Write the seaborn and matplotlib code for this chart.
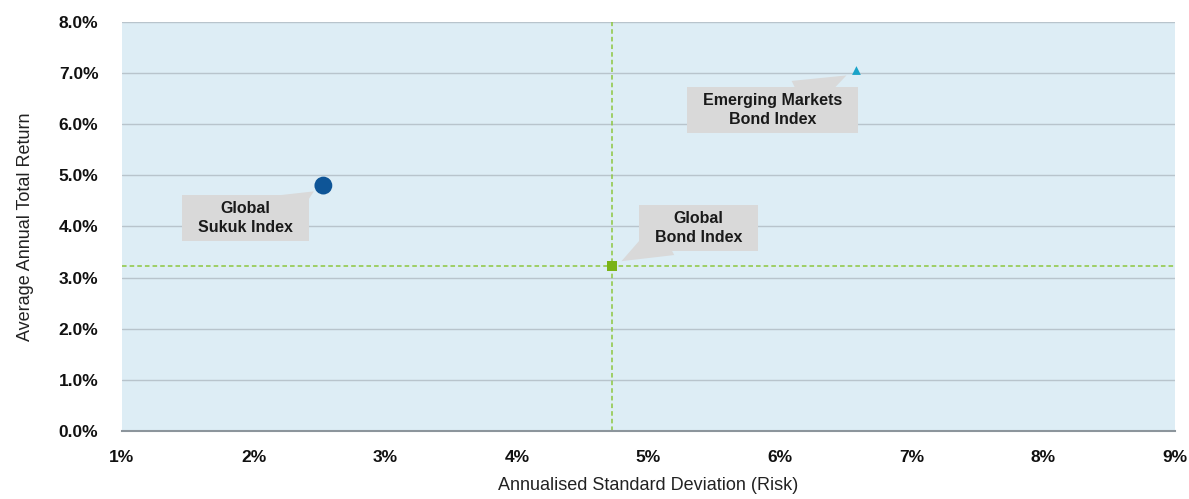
import matplotlib
matplotlib.use("Agg")
import matplotlib.pyplot as plt
import seaborn as sns
import pandas as pd
from matplotlib.ticker import FuncFormatter

# Index risk / return figures (percent)
indices = ["Global\nSukuk Index", "Global\nBond Index", "Emerging Markets\nBond Index"]
risk = [2.53, 4.72, 6.58]
ret = [4.80, 3.22, 7.05]

# Callout placement (data coords) and where the pointer leaves the text block
label_pos_x = [1.94, 5.38, 5.94]
label_pos_y = [4.17, 3.97, 6.28]
pointer_rel = [(0.85, 0.65), (0.12, 0.2), (0.7, 0.85)]

colors = ["#0E5597", "#7AB317", "#1AA3C8"]
markers = ["o", "s", "^"]
sizes = [165, 50, 40]

sns.set_theme(style="white")
plt.rcParams["font.family"] = ["Liberation Sans", "DejaVu Sans"]

df = pd.DataFrame({"Index": indices, "Risk": risk, "Return": ret})

fig = plt.figure(figsize=(11.89, 4.99), dpi=100)
ax = fig.add_axes([0.1026, 0.1363, 0.8856, 0.8197])
ax.set_facecolor("#DDEDF5")

ax.set_xlim(1, 9)
ax.set_ylim(0, 8)
ax.set_yticks(list(range(0, 9)))
ax.set_xticks(list(range(1, 10)))
ax.yaxis.set_major_formatter(FuncFormatter(lambda v, p: f"{v:.1f}%"))
ax.xaxis.set_major_formatter(FuncFormatter(lambda v, p: f"{v:.0f}%"))
ax.grid(axis="y", color="#B8C4CC", linewidth=1)
ax.set_axisbelow(True)
for s in ["top", "right", "left"]:
    ax.spines[s].set_visible(False)
ax.spines["bottom"].set_color("#8C959C")
ax.spines["bottom"].set_linewidth(1.5)
ax.tick_params(axis="both", length=0, labelsize=12.5, colors="#111111")
ax.tick_params(axis="x", pad=14)
ax.tick_params(axis="y", pad=17)
for lab in ax.get_xticklabels() + ax.get_yticklabels():
    lab.set_fontweight("bold")

# Crosshair through the Global Bond Index
ax.axvline(risk[1], color="#8DC63F", linestyle=(0, (3, 2)), linewidth=1.1, zorder=1)
ax.axhline(ret[1], color="#8DC63F", linestyle=(0, (3, 2)), linewidth=1.1, zorder=1)

for i, name in enumerate(indices):
    sns.scatterplot(data=df[df["Index"] == name], x="Risk", y="Return", ax=ax,
                    color=colors[i], marker=markers[i], s=sizes[i],
                    edgecolor="none", zorder=4, legend=False)
    ax.annotate(name, xy=(risk[i], ret[i]), xytext=(label_pos_x[i], label_pos_y[i]),
                ha="center", va="center", fontsize=11.5, fontweight="bold",
                color="#1A1A1A", linespacing=1.3, zorder=3,
                bbox=dict(boxstyle="square,pad=1.0", mutation_aspect=0.4,
                          fc="#D9D9D9", ec="none"),
                arrowprops=dict(arrowstyle="wedge,tail_width=2.4,shrink_factor=0.5",
                                fc="#D9D9D9", ec="none", patchA=None,
                                relpos=pointer_rel[i], shrinkA=0, shrinkB=8))

ax.set_xlabel("Annualised Standard Deviation (Risk)", fontsize=13, labelpad=8, color="#222222")
ax.set_ylabel("Average Annual Total Return", fontsize=13, labelpad=18, color="#222222")

fig.savefig("out.png", dpi=100, facecolor="white")
